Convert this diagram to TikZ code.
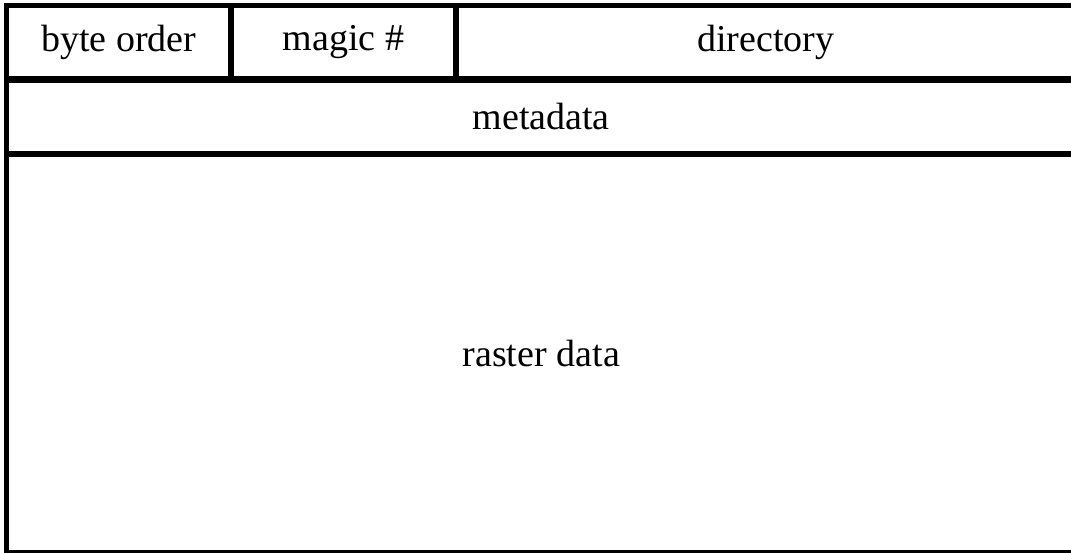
\documentclass[tikz,border=0pt]{standalone}
\usepackage{fontspec}
\setmainfont{Liberation Serif}
\begin{document}
\begin{tikzpicture}[x=0.5pt,y=-0.5pt,
  cell/.style={draw=black,line width=2.75pt,rectangle,inner sep=0pt,outer sep=0pt,
    font=\fontsize{19pt}{22pt}\selectfont,text=black}]
\useasboundingbox (0,0) rectangle (1071,552);
\clip (0,0) rectangle (1071,552);
\node[cell,minimum width=112.25pt,minimum height=37.25pt] (byte) at (118.75,42.5) {byte order};
\node[cell,minimum width=112.5pt,minimum height=37.25pt] (magic) at (343.5,42.5) {magic \#};
\node[cell,minimum width=310pt,minimum height=37.25pt] (dir) at (766,42.5) {directory};
\node[cell,minimum width=534.75pt,minimum height=37.5pt] (meta) at (541.25,116.5) {metadata};
\node[cell,minimum width=534.75pt,minimum height=199.5pt] (raster) at (541.25,353.5) {raster data};
\end{tikzpicture}
\end{document}
